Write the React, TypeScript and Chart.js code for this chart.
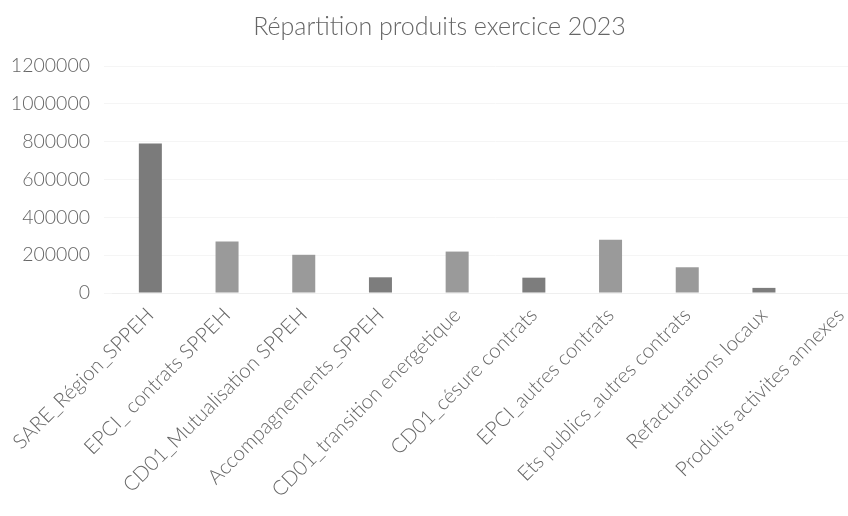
import React, { useEffect, useRef } from "react";
import { Chart, registerables } from "chart.js";

Chart.register(...registerables);

const categories = [
  "SARE_Région_SPPEH",
  "EPCI_ contrats SPPEH",
  "CD01_Mutualisation SPPEH",
  "Accompagnements_SPPEH",
  "CD01_transition energetique",
  "CD01_césure contrats",
  "EPCI_autres contrats",
  "Ets publics_autres contrats",
  "Refacturations locaux",
  "Produits activites annexes",
];

const values = [790000, 272000, 202000, 83000, 219000, 81000, 281000, 136000, 27000, 0];

const yTicks = [0, 200000, 400000, 600000, 800000, 1000000, 1200000];

const titleText = "Répartition produits exercice 2023";

const barColors = [
  "#7b7b7b", "#9a9a9a", "#9a9a9a", "#7d7d7d", "#9a9a9a",
  "#7d7d7d", "#9a9a9a", "#9a9a9a", "#7d7d7d", "#9a9a9a",
];

const FONT = "Lato, 'Open Sans', sans-serif";
const TEXT = "#666666";

export default function App() {
  const ref = useRef<HTMLCanvasElement | null>(null);

  useEffect(() => {
    if (!ref.current) return;
    const chart = new Chart(ref.current, {
      type: "bar",
      data: {
        labels: categories,
        datasets: [
          {
            data: values,
            backgroundColor: barColors,
            barPercentage: 0.3,
            categoryPercentage: 1,
          },
        ],
      },
      options: {
        animation: false,
        responsive: false,
        layout: { padding: { left: 0, right: 14, top: 0, bottom: 0 } },
        plugins: {
          legend: { display: false },
          tooltip: { enabled: false },
          title: {
            display: true,
            text: titleText,
            color: TEXT,
            font: { family: FONT, size: 25, weight: "300" },
            padding: { top: 12, bottom: 24 },
          },
        },
        scales: {
          x: {
            grid: { display: false },
            border: { color: "#efefef" },
            ticks: {
              color: TEXT,
              font: { family: FONT, size: 20.5, weight: "300" },
              maxRotation: 45,
              minRotation: 45,
              autoSkip: false,
              padding: 2,
            },
            afterFit: (scale: any) => {
              scale.height = 223;
            },
          },
          y: {
            min: 0,
            max: 1200000,
            afterBuildTicks: (scale: any) => {
              scale.ticks = yTicks.map((v) => ({ value: v }));
            },
            grid: { color: "#f5f5f5" },
            border: { display: false },
            ticks: {
              color: TEXT,
              font: { family: FONT, size: 19.5, weight: "300" },
              padding: 14,
              callback: (v: any) => String(v),
            },
            afterFit: (scale: any) => {
              scale.width = 112;
            },
          },
        },
      },
    });
    return () => chart.destroy();
  }, []);

  return (
    <div
      style={{
        position: "fixed",
        left: 0,
        top: 0,
        width: 848,
        height: 516,
        overflow: "hidden",
        background: "#fff",
      }}
    >
      <canvas ref={ref} width={893} height={516} style={{ display: "block" }} />
    </div>
  );
}
